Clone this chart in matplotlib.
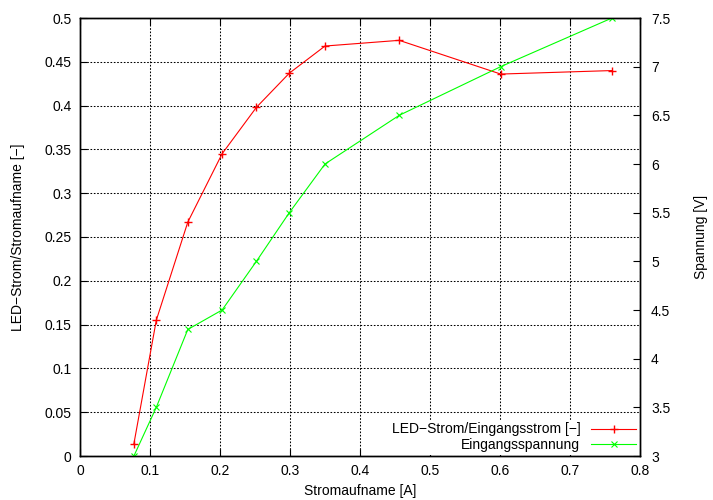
import matplotlib
matplotlib.use("Agg")
import matplotlib.pyplot as plt

plt.rcParams['font.family'] = ['Liberation Sans', 'DejaVu Sans']
plt.rcParams['font.size'] = 10

# measured data
strom = [0.077, 0.109, 0.154, 0.203, 0.252, 0.299, 0.350, 0.456, 0.601, 0.760]
verhaeltnis = [0.014, 0.155, 0.267, 0.345, 0.398, 0.437, 0.468, 0.4745, 0.436, 0.440]
spannung = [3.0, 3.5, 4.3, 4.5, 5.0, 5.5, 6.0, 6.5, 7.0, 7.5]

x_ticks = [0, 0.1, 0.2, 0.3, 0.4, 0.5, 0.6, 0.7, 0.8]
x_labels = ["0", "0.1", "0.2", "0.3", "0.4", "0.5", "0.6", "0.7", "0.8"]
y_ticks = [0, 0.05, 0.1, 0.15, 0.2, 0.25, 0.3, 0.35, 0.4, 0.45, 0.5]
y_labels = ["0", "0.05", "0.1", "0.15", "0.2", "0.25", "0.3", "0.35", "0.4", "0.45", "0.5"]
y2_ticks = [3, 3.5, 4, 4.5, 5, 5.5, 6, 6.5, 7, 7.5]
y2_labels = ["3", "3.5", "4", "4.5", "5", "5.5", "6", "6.5", "7", "7.5"]

fig = plt.figure(figsize=(7.13, 5.0), dpi=100)
ax = fig.add_axes([80 / 713, 44 / 500, 560 / 713, 438 / 500])
ax2 = ax.twinx()

l1, = ax.plot(strom, verhaeltnis, color="#ff0000", lw=0.8, marker="+", ms=6, mew=1,
              label="LED−Strom/Eingangsstrom [−]")
l2, = ax2.plot(strom, spannung, color="#00ff00", lw=0.8, marker="x", ms=4.5, mew=0.8,
               label="Eingangsspannung")

ax.set_xlim(0, 0.8)
ax.set_ylim(0, 0.5)
ax2.set_ylim(3, 7.5)
ax.set_xticks(x_ticks)
ax.set_xticklabels(x_labels)
ax.set_yticks(y_ticks)
ax.set_yticklabels(y_labels)
ax2.set_yticks(y2_ticks)
ax2.set_yticklabels(y2_labels)

ax.grid(True, color="black", linestyle=(0, (1.6, 1.6)), linewidth=0.75)
ax.set_axisbelow(True)
ax.tick_params(direction="in", length=5, top=True, right=False, pad=6)
ax2.tick_params(direction="in", length=5, pad=8)

for a in (ax, ax2):
    for s in a.spines.values():
        s.set_linewidth(1)

ax.set_xlabel("Stromaufname [A]", labelpad=4)
ax.set_ylabel("LED−Strom/Stromaufname [−]", labelpad=14)
ax2.set_ylabel("Spannung [V]", labelpad=17)

leg = ax2.legend([l1, l2], [l1.get_label(), l2.get_label()], loc="lower right",
                 markerfirst=False, frameon=True, fancybox=False, framealpha=1,
                 handlelength=3.2, borderpad=0.2, labelspacing=0.1,
                 borderaxespad=0.1, handletextpad=0.8)
leg.get_frame().set_edgecolor("white")
leg.get_frame().set_linewidth(0)
for t in leg.get_texts():
    t.set_ha("right")

fig.savefig("out.png", dpi=100)
